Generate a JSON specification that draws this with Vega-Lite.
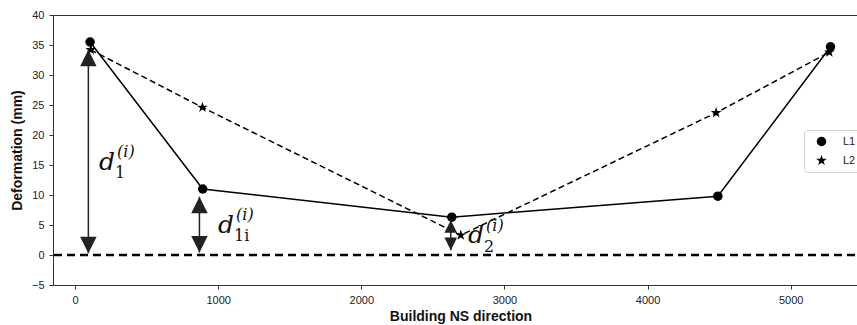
{
  "$schema": "https://vega.github.io/schema/vega-lite/v6.json",
  "width": 815,
  "height": 270,
  "autosize": {"type": "none"},
  "padding": {"left": 53, "top": 15, "right": -11, "bottom": 40},
  "background": "white",
  "datasets": {
    "series": [
      {"series": "L1", "x": 105, "y": 35.5},
      {"series": "L1", "x": 892, "y": 11.0},
      {"series": "L1", "x": 2632, "y": 6.3},
      {"series": "L1", "x": 4491, "y": 9.8},
      {"series": "L1", "x": 5278, "y": 34.7},
      {"series": "L2", "x": 110, "y": 34.2},
      {"series": "L2", "x": 890, "y": 24.6},
      {"series": "L2", "x": 2695, "y": 3.3},
      {"series": "L2", "x": 4479, "y": 23.7},
      {"series": "L2", "x": 5270, "y": 33.8}
    ],
    "arrows": [
      {"name": "d1", "x": 93, "lo": 0.3, "hi": 34.2},
      {"name": "d1i", "x": 869, "lo": 0.4, "hi": 9.7},
      {"name": "d2", "x": 2625, "lo": 0.8, "hi": 5.8}
    ],
    "labels": [
      {"x": 168, "y": 14.2, "base": "d", "sub": "1", "sup": "(i)"},
      {"x": 999, "y": 3.7, "base": "d", "sub": "1i", "sup": "(i)"},
      {"x": 2746, "y": 2.0, "base": "d", "sub": "2", "sup": "(i)"}
    ]
  },
  "config": {
    "view": {"stroke": "#333", "strokeWidth": 1},
    "font": "Liberation Sans",
    "axis": {
      "grid": false,
      "domainColor": "#333",
      "tickColor": "#333",
      "tickSize": 4,
      "labelFont": "Liberation Sans",
      "labelFontSize": 11,
      "labelColor": "#222",
      "labelPadding": 5,
      "titleFont": "Liberation Sans",
      "titleFontSize": 14,
      "titleFontWeight": "bold",
      "titleColor": "#111"
    },
    "legend": {
      "padding": 6,
      "strokeColor": "#d0d0d0",
      "fillColor": "white",
      "cornerRadius": 3,
      "symbolOffset": 6,
      "labelOffset": 16,
      "rowPadding": 7,
      "labelFont": "Liberation Sans",
      "labelFontSize": 11,
      "labelColor": "#222",
      "symbolFillColor": "black",
      "symbolStrokeWidth": 0,
      "symbolSize": 90
    }
  },
  "encoding": {
    "x": {
      "field": "x", "type": "quantitative",
      "scale": {"domain": [-154, 5540], "nice": false, "zero": false},
      "axis": {"title": "Building NS direction", "values": [0, 1000, 2000, 3000, 4000, 5000], "format": "d", "titleY": 35, "titleBaseline": "alphabetic"}
    },
    "y": {
      "field": "y", "type": "quantitative",
      "scale": {"domain": [-5, 40], "nice": false, "zero": false},
      "axis": {"title": "Deformation (mm)", "values": [-5, 0, 5, 10, 15, 20, 25, 30, 35, 40], "format": "d", "titleX": -31.5, "titleY": 135, "titleBaseline": "alphabetic", "titleAlign": "center"}
    }
  },
  "layer": [
    {
      "data": {"values": [{"y": 0}]},
      "mark": {"type": "rule", "color": "black", "strokeWidth": 2.5, "strokeDash": [8, 5]},
      "encoding": {
        "x": null
      }
    },
    {
      "data": {"name": "series"},
      "transform": [{"filter": "datum.series === 'L2'"}],
      "mark": {"type": "line", "color": "black", "strokeWidth": 1.5, "strokeDash": [6, 3.5]},
      "encoding": {}
    },
    {
      "data": {"name": "series"},
      "transform": [{"filter": "datum.series === 'L1'"}],
      "mark": {"type": "line", "color": "black", "strokeWidth": 1.5},
      "encoding": {}
    },
    {
      "data": {"name": "series"},
      "mark": {"type": "point", "filled": true, "color": "black", "opacity": 1, "size": 90, "strokeWidth": 0},
      "encoding": {
        "shape": {
          "field": "series", "type": "nominal",
          "scale": {"domain": ["L1", "L2"], "range": ["circle", "M0,-1.2L0.27,-0.37L1.14,-0.37L0.44,0.14L0.71,0.97L0,0.46L-0.71,0.97L-0.44,0.14L-1.14,-0.37L-0.27,-0.37Z"]},
          "legend": {"title": null, "orient": "none", "legendX": 751, "legendY": 115}
        }
      }
    },
    {
      "data": {"name": "arrows"},
      "mark": {"type": "rule", "color": "#222", "strokeWidth": 1.5},
      "encoding": {
        "y": {"field": "lo", "type": "quantitative"},
        "y2": {"field": "hi"}
      }
    },
    {
      "data": {"name": "arrows"},
      "transform": [{"filter": "datum.name !== 'd2'"}],
      "mark": {"type": "point", "filled": true, "color": "#222", "opacity": 1, "strokeWidth": 0, "size": 272, "shape": "M0,0L-1,2L1,2Z"},
      "encoding": {
        "y": {"field": "hi", "type": "quantitative"}
      }
    },
    {
      "data": {"name": "arrows"},
      "transform": [{"filter": "datum.name !== 'd2'"}],
      "mark": {"type": "point", "filled": true, "color": "#222", "opacity": 1, "strokeWidth": 0, "size": 272, "shape": "M0,0L-1,-2L1,-2Z"},
      "encoding": {
        "y": {"field": "lo", "type": "quantitative"}
      }
    },
    {
      "data": {"name": "arrows"},
      "transform": [{"filter": "datum.name === 'd2'"}],
      "mark": {"type": "point", "filled": true, "color": "#222", "opacity": 1, "strokeWidth": 0, "size": 160, "shape": "M0,0L-1,2L1,2Z"},
      "encoding": {
        "y": {"field": "hi", "type": "quantitative"}
      }
    },
    {
      "data": {"name": "arrows"},
      "transform": [{"filter": "datum.name === 'd2'"}],
      "mark": {"type": "point", "filled": true, "color": "#222", "opacity": 1, "strokeWidth": 0, "size": 160, "shape": "M0,0L-1,-2L1,-2Z"},
      "encoding": {
        "y": {"field": "lo", "type": "quantitative"}
      }
    },
    {
      "data": {"name": "labels"},
      "mark": {"type": "text", "font": "DejaVu Serif", "fontStyle": "italic", "fontSize": 25, "align": "left", "baseline": "alphabetic", "color": "#111"},
      "encoding": {
        "text": {"field": "base"}
      }
    },
    {
      "data": {"name": "labels"},
      "mark": {"type": "text", "font": "DejaVu Serif", "fontSize": 16, "align": "left", "baseline": "alphabetic", "color": "#111", "dx": 16, "dy": 8.5},
      "encoding": {
        "text": {"field": "sub"}
      }
    },
    {
      "data": {"name": "labels"},
      "mark": {"type": "text", "font": "DejaVu Serif", "fontStyle": "italic", "fontSize": 16, "align": "left", "baseline": "alphabetic", "color": "#111", "dx": 18, "dy": -12.5},
      "encoding": {
        "text": {"field": "sup"}
      }
    }
  ]
}
